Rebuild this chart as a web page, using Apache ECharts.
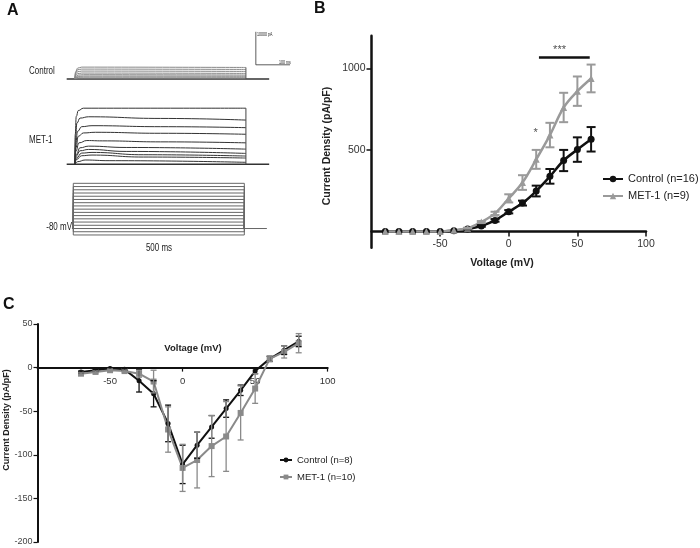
<!DOCTYPE html>
<html><head><meta charset="utf-8">
<script src="https://cdn.jsdelivr.net/npm/echarts@6/dist/echarts.min.js"></script>
<style>html,body{margin:0;padding:0;background:#fff}#c{width:700px;height:548px}</style>
</head><body><div id="c"></div>
<script>
// ---------- Panel B data ----------
const voltsB = [-90,-80,-70,-60,-50,-40,-30,-20,-10,0,10,20,30,40,50,60];
const controlB = [0,0,0,0,0,5,15,34,68,121,174,248,338,435,502,565];
const controlBErr = [0,0,0,0,0,0,2,5,8,10,15,33,45,65,75,75];
const metB = [0,0,0,0,0,8,20,58,111,203,300,442,591,760,860,938];
const metBErr = [0,0,0,0,0,0,3,6,10,25,45,58,75,90,90,85];
const starB = [[19.6, 602, '*'], [37, 1110, '***']];
const sigBarB = [[22, 1067], [59, 1067]];
const yTicksB = [500, 1000];
const xTicksB = [-50, 0, 50, 100];

// ---------- Panel C data ----------
const voltsC = [-70,-60,-50,-40,-30,-20,-10,0,10,20,30,40,50,60,70,80];
const controlC = [-5,-3,-1,-2,-15,-30,-64,-111,-89,-68,-47,-26,-4,10,20,30];
const controlCErr = [1,1,1,1,13,15,21,22,15,13,10,6,3,3,5,6];
const metC = [-7,-5,-3,-4,-7,-16,-71,-115,-106,-90,-79,-52,-24,10,18,28];
const metCErr = [1,1,1,1,4,13,26,27,32,35,40,31,17,3,7,11];
const xTicksC = [-50, 0, 50, 100];

// ---------- Panel A data (time ms, current pA / voltage mV) ----------
const baselineA = [[-24, 0], [568, 0]];
const controlTraces = [
  [[0,0],[2,2200],[8,3300],[20,3600],[500,3500]],
  [[0,0],[2,1900],[8,2800],[20,3000],[500,2900]],
  [[0,0],[2,1500],[8,2200],[20,2400],[500,2300]],
  [[0,0],[2,1100],[8,1600],[20,1800],[500,1700]],
  [[0,0],[3,800],[10,1200],[25,1300],[500,1200]],
  [[0,0],[3,500],[10,800],[25,900],[500,850]],
  [[0,0],[3,300],[10,550],[25,600],[500,550]],
  [[0,0],[3,150],[10,280],[25,300],[500,280]]
];
const metTraces = [
  [[0,0],[1,9000],[4,14500],[10,16300],[25,17000],[500,17000]],
  [[0,0],[2,8500],[6,12500],[15,14000],[40,14400],[250,13900],[500,13400]],
  [[0,0],[2,6000],[8,10000],[20,11400],[50,11700],[250,11400],[500,11100]],
  [[0,0],[3,5000],[10,8500],[25,9500],[60,9700],[250,9400],[500,9100]],
  [[0,0],[3,4000],[12,6500],[35,7200],[80,7100],[250,6800],[500,6500]],
  [[0,0],[4,3000],[15,5000],[40,5500],[150,5100],[500,4600]],
  [[0,0],[4,2500],[15,4100],[40,4500],[150,3900],[500,3300]],
  [[0,0],[5,2000],[20,3400],[50,3600],[200,2900],[500,2500]],
  [[0,0],[5,1500],[20,2600],[50,2800],[200,2200],[500,1900]],
  [[0,0],[8,800],[30,1300],[100,1100],[500,600]]
];
const stepLevels = [-100,-90,-80,-70,-60,-50,-40,-30,-20,-10,0,10,20,30,40,50,60];
const holdingV = -80;
const stepStart = 0, stepEnd = 500;
const holdingLine = [[-4, -80], [566, -80]];
const scaleBar = {t: 529, i: 4300, dt: 100, di: 10000};

const BLACK = '#111', GRAY_B = '#9a9a9a', GRAY_C = '#8a8a8a';
const FONT = 'Liberation Sans, Arial, sans-serif';

function errRender(color, cap, lw) {
  return function (params, api) {
    const x = api.value(0), y = api.value(1), e = api.value(2);
    if (!e) return null;
    const p1 = api.coord([x, y + e]), p2 = api.coord([x, y - e]);
    const st = {stroke: color, lineWidth: lw};
    return {type: 'group', children: [
      {type: 'line', shape: {x1: p1[0], y1: p1[1], x2: p2[0], y2: p2[1]}, style: st},
      {type: 'line', shape: {x1: p1[0] - cap / 2, y1: p1[1], x2: p1[0] + cap / 2, y2: p1[1]}, style: st},
      {type: 'line', shape: {x1: p2[0] - cap / 2, y1: p2[1], x2: p2[0] + cap / 2, y2: p2[1]}, style: st}
    ]};
  };
}

const series = [];
function plain(xi, data, color, width, extra) {
  series.push(Object.assign({type: 'line', xAxisIndex: xi, yAxisIndex: xi, data: data,
    symbol: 'none', silent: true, lineStyle: {color: color, width: width}, z: 2}, extra || {}));
}

// Panel A - control
plain(0, baselineA, '#333', 1.5);
controlTraces.forEach(tr => plain(0, tr, '#888', 1, {smooth: 0.4, smoothMonotone: 'x'}));
plain(0, [[stepEnd, 0], [stepEnd, Math.max(...controlTraces.map(t => t[t.length - 1][1]))]], '#555', 1);
plain(0, [[scaleBar.t, scaleBar.i + scaleBar.di], [scaleBar.t, scaleBar.i], [scaleBar.t + scaleBar.dt, scaleBar.i]], '#333', 0.8);
// Panel A - MET-1
plain(1, baselineA, '#333', 1.5);
metTraces.forEach(tr => plain(1, tr, '#333', 1, {smooth: 0.5, smoothMonotone: 'x'}));
plain(1, [[stepEnd, 0], [stepEnd, Math.max(...metTraces.map(t => t[t.length - 1][1]))]], '#444', 1);
// Panel A - protocol
plain(2, holdingLine, '#666', 1);
stepLevels.forEach(v => plain(2, [[stepStart, holdingV], [stepStart, v], [stepEnd, v], [stepEnd, holdingV]], '#666', 1));

// Panel B
series.push({type: 'line', name: 'Control (n=16)', xAxisIndex: 3, yAxisIndex: 3,
  data: voltsB.map((v, i) => [v, controlB[i]]), smooth: 0.35, symbol: 'circle', symbolSize: 7,
  itemStyle: {color: BLACK}, lineStyle: {color: BLACK, width: 2.5}, z: 3});
series.push({type: 'custom', xAxisIndex: 3, yAxisIndex: 3, renderItem: errRender(BLACK, 9, 2),
  data: voltsB.map((v, i) => [v, controlB[i], controlBErr[i]]), encode: {x: 0, y: 1}, z: 4, silent: true});
series.push({type: 'line', name: 'MET-1 (n=9)', xAxisIndex: 3, yAxisIndex: 3,
  data: voltsB.map((v, i) => [v, metB[i]]), smooth: 0.35, symbol: 'triangle', symbolSize: 7,
  itemStyle: {color: GRAY_B}, lineStyle: {color: GRAY_B, width: 2.5}, z: 3});
series.push({type: 'custom', xAxisIndex: 3, yAxisIndex: 3, renderItem: errRender(GRAY_B, 9, 2),
  data: voltsB.map((v, i) => [v, metB[i], metBErr[i]]), encode: {x: 0, y: 1}, z: 4, silent: true});
series.push({type: 'line', xAxisIndex: 3, yAxisIndex: 3, data: sigBarB, symbol: 'none', silent: true,
  lineStyle: {color: BLACK, width: 2.5}});
series.push({type: 'scatter', xAxisIndex: 3, yAxisIndex: 3, symbolSize: 0, silent: true,
  data: starB.map(s => ({value: [s[0], s[1]], label: {show: true, formatter: s[2], position: 'inside',
    color: '#222', fontSize: 11, fontFamily: FONT}}))});

// Panel C
series.push({type: 'line', name: 'Control (n=8)', xAxisIndex: 4, yAxisIndex: 4,
  data: voltsC.map((v, i) => [v, controlC[i]]), symbol: 'circle', symbolSize: 5,
  itemStyle: {color: BLACK}, lineStyle: {color: BLACK, width: 2}, z: 3});
series.push({type: 'custom', xAxisIndex: 4, yAxisIndex: 4, renderItem: errRender(BLACK, 6, 1.3),
  data: voltsC.map((v, i) => [v, controlC[i], controlCErr[i]]), encode: {x: 0, y: 1}, z: 4, silent: true});
series.push({type: 'line', name: 'MET-1 (n=10)', xAxisIndex: 4, yAxisIndex: 4,
  data: voltsC.map((v, i) => [v, metC[i]]), symbol: 'rect', symbolSize: 6,
  itemStyle: {color: GRAY_C}, lineStyle: {color: GRAY_C, width: 2}, z: 3});
series.push({type: 'custom', xAxisIndex: 4, yAxisIndex: 4, renderItem: errRender(GRAY_C, 6, 1.3),
  data: voltsC.map((v, i) => [v, metC[i], metCErr[i]]), encode: {x: 0, y: 1}, z: 4, silent: true});

const hiddenX = (min, max, gi) => ({type: 'value', gridIndex: gi, min: min, max: max, show: false});
const hiddenY = (min, max, gi) => ({type: 'value', gridIndex: gi, min: min, max: max, show: false});

const txt = (text, x, y, o, extra) => Object.assign({type: 'text', x: x, y: y, silent: true,
  style: Object.assign({text: text, fill: '#222', font: '10px ' + FONT, textAlign: 'left', textVerticalAlign: 'middle'}, o || {})}, extra || {});
const narrow = {scaleX: 0.8};
const rtxt = (text, x, y, font) => ({type: 'text', x: x, y: y, rotation: Math.PI / 2, silent: true,
  style: {text: text, fill: '#222', font: font, textAlign: 'center', textVerticalAlign: 'middle'}});

const gridB = {left: 371.5, top: 35.7, width: 274.5, height: 212.1};
const gridC = {left: 37.5, top: 324, width: 290.2, height: 218};
const yMinB = -100, yMaxB = 1200, yMinC = -200, yMaxC = 50;
// lift the x axes from the grid bottom up to the value 0
const offB = -(0 - yMinB) / (yMaxB - yMinB) * gridB.height;
const offC = -(0 - yMinC) / (yMaxC - yMinC) * gridC.height;

const option = {
  animation: false,
  backgroundColor: '#fff',
  grid: [
    {left: 66, top: 29.5, width: 227.8, height: 56.1},
    {left: 66, top: 98.3, width: 227.8, height: 72.6},
    {left: 64.4, top: 180.1, width: 227.8, height: 58.1},
    gridB, gridC
  ],
  xAxis: [
    hiddenX(-26, 640, 0), hiddenX(-26, 640, 1), hiddenX(-26, 640, 2),
    {type: 'value', gridIndex: 3, min: -100, max: 100, splitLine: {show: false}, offset: offB,
      axisLine: {onZero: false, lineStyle: {color: BLACK, width: 2.5}},
      axisTick: {customValues: xTicksB, length: 5, lineStyle: {color: BLACK, width: 1.5}},
      axisLabel: {customValues: xTicksB, margin: 7, color: '#333', fontSize: 10.5, fontFamily: FONT}},
    {type: 'value', gridIndex: 4, min: -100, max: 100, splitLine: {show: false}, offset: offC,
      axisLine: {onZero: false, lineStyle: {color: BLACK, width: 2}},
      axisTick: {customValues: xTicksC, length: 4, lineStyle: {color: BLACK, width: 1.2}},
      axisLabel: {customValues: xTicksC, margin: 9, color: '#333', fontSize: 9.5, fontFamily: FONT}}
  ],
  yAxis: [
    hiddenY(-2000, 15000, 0), hiddenY(-2000, 20000, 1), hiddenY(-110, 70, 2),
    {type: 'value', gridIndex: 3, min: yMinB, max: yMaxB, splitLine: {show: false},
      axisLine: {show: true, onZero: false, lineStyle: {color: BLACK, width: 2.5}},
      axisTick: {customValues: yTicksB, length: 5, lineStyle: {color: BLACK, width: 1.5}},
      axisLabel: {customValues: yTicksB, formatter: v => String(v), margin: 6, color: '#333', fontSize: 10.5, fontFamily: FONT}},
    {type: 'value', gridIndex: 4, min: yMinC, max: yMaxC, interval: 50, splitLine: {show: false},
      axisLine: {show: true, onZero: false, lineStyle: {color: BLACK, width: 2}},
      axisTick: {length: 4, lineStyle: {color: BLACK, width: 1.2}},
      axisLabel: {margin: 5, color: '#444', fontSize: 9, fontFamily: FONT}}
  ],
  legend: [
    {data: ['Control (n=16)', 'MET-1 (n=9)'], orient: 'vertical', left: 602, top: 173.5, itemGap: 6, padding: 0,
      itemWidth: 20, itemHeight: 8, textStyle: {fontSize: 11, color: '#222', fontFamily: FONT}},
    {data: ['Control (n=8)', 'MET-1 (n=10)'], orient: 'vertical', left: 279, top: 455, itemGap: 7, padding: 0,
      itemWidth: 12, itemHeight: 6, textStyle: {fontSize: 9.5, color: '#222', fontFamily: FONT}}
  ],
  graphic: [
    txt('A', 7, 11, {font: 'bold 16px ' + FONT, fill: '#111'}),
    txt('B', 314, 9, {font: 'bold 16px ' + FONT, fill: '#111'}),
    txt('C', 3, 305, {font: 'bold 16px ' + FONT, fill: '#111'}),
    txt('Control', 29, 71, {}, narrow),
    txt('MET-1', 29, 140, {}, narrow),
    txt('-80 mV', 72, 227, {textAlign: 'right'}, narrow),
    txt('500 ms', 159, 248, {textAlign: 'center'}, narrow),
    txt('10000 pA', 257, 34.5, {font: '4.5px ' + FONT}, narrow),
    txt('100 ms', 279, 62.5, {font: '4.5px ' + FONT}, narrow),
    rtxt('Current Density (pA/pF)', 327, 146, 'bold 10.5px ' + FONT),
    txt('Voltage (mV)', 502, 263, {font: 'bold 10.5px ' + FONT, textAlign: 'center'}),
    rtxt('Current Density (pA/pF)', 7, 420, 'bold 9px ' + FONT),
    txt('Voltage (mV)', 193, 348, {font: 'bold 9.5px ' + FONT, textAlign: 'center'})
  ],
  series: series
};
echarts.init(document.getElementById('c'), null, {renderer: 'canvas'}).setOption(option);
</script></body></html>
